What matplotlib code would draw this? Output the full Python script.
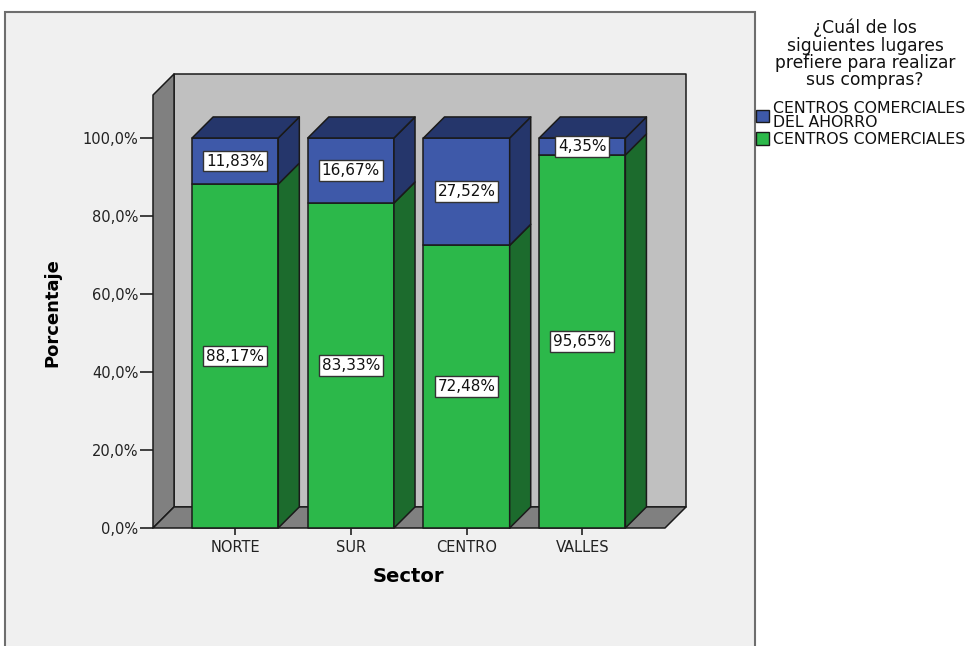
import matplotlib
matplotlib.use("Agg")
import matplotlib.pyplot as plt
from matplotlib.patches import Rectangle, Polygon, Patch

# ---- data -------------------------------------------------------------
sectors = ["NORTE", "SUR", "CENTRO", "VALLES"]
comerciales = [88.17, 83.33, 72.48, 95.65]          # CENTROS COMERCIALES
ahorro = [11.83, 16.67, 27.52, 4.35]                # CENTROS COMERCIALES DEL AHORRO
series_names = ["CENTROS COMERCIALES\nDEL AHORRO", "CENTROS COMERCIALES"]
y_ticks = [0, 20, 40, 60, 80, 100]
legend_title = "¿Cuál de los\nsiguientes lugares\nprefiere para realizar\nsus compras?"

# ---- style ------------------------------------------------------------
GREEN = "#2cb84a"
GREEN_SIDE = "#1c6b2d"
BLUE = "#3e59a9"
BLUE_DARK = "#25366b"
WALL_BACK = "#c0c0c0"
WALL_SIDE = "#808080"
PANEL = "#f0f0f0"
EDGE = "#1a1a1a"

plt.rcParams["font.family"] = ["DejaVu Sans"]

W, H = 979, 646
fig = plt.figure(figsize=(W / 100, H / 100), dpi=100, facecolor="white")

# outer chart panel
fig.patches.append(Rectangle((5 / W, -0.05), 750 / W, 1.05 - 12 / H,
                             transform=fig.transFigure, facecolor=PANEL,
                             edgecolor="#6e6e6e", lw=1.5, zorder=-5))

ax = fig.add_axes([153 / W, 118 / H, 512 / W, 433 / H])
ax.set_facecolor("none")
ax.set_zorder(2)
xmin, xmax = -0.71, 3.715
ymin, ymax = 0.0, 111.03
ax.set_xlim(xmin, xmax)
ax.set_ylim(ymin, ymax)
for s in ax.spines.values():
    s.set_visible(False)

# depth of the pseudo-3D extrusion, in data units
dx, dy = 0.182, 5.4
bar_w = 0.745


def poly(pts, fc, z):
    ax.add_patch(Polygon(pts, closed=True, facecolor=fc, edgecolor=EDGE,
                         lw=1.1, joinstyle="round", clip_on=False, zorder=z))


# walls and floor
poly([(xmin + dx, ymin + dy), (xmax + dx, ymin + dy),
      (xmax + dx, ymax + dy), (xmin + dx, ymax + dy)], WALL_BACK, 1)
poly([(xmin, ymin), (xmin + dx, ymin + dy),
      (xmin + dx, ymax + dy), (xmin, ymax)], WALL_SIDE, 2)
poly([(xmin, ymin), (xmax, ymin),
      (xmax + dx, ymin + dy), (xmin + dx, ymin + dy)], WALL_SIDE, 2)


def fmt(v, d):
    return f"{v:.{d}f}%".replace(".", ",")


# stacked 3D bars
for i, (g, b) in enumerate(zip(comerciales, ahorro)):
    x0, x1 = i - bar_w / 2, i + bar_w / 2
    segments = [(0, g, GREEN, GREEN_SIDE), (g, g + b, BLUE, BLUE_DARK)]
    for k, (y0, y1, front, side) in enumerate(segments):
        poly([(x0, y0), (x1, y0), (x1, y1), (x0, y1)], front, 3)
        poly([(x1, y0), (x1 + dx, y0 + dy), (x1 + dx, y1 + dy), (x1, y1)], side, 3)
        if k == len(segments) - 1:
            poly([(x0, y1), (x1, y1), (x1 + dx, y1 + dy), (x0 + dx, y1 + dy)],
                 BLUE_DARK, 3)
    for val, yc in ((g, g / 2), (b, g + b / 2)):
        ax.text(i, yc, fmt(val, 2), ha="center", va="center", fontsize=11,
                color="#111111", zorder=5,
                bbox=dict(boxstyle="square,pad=0.18", facecolor="white",
                          edgecolor="#333333", lw=1.0))

# axes ticks and labels
ax.set_yticks(y_ticks)
ax.set_yticklabels([fmt(v, 1) for v in y_ticks])
ax.set_xticks(range(len(sectors)))
ax.set_xticklabels(sectors)
ax.tick_params(axis="y", length=9.5, width=1.2, pad=1, labelsize=10.5,
               colors="#222222", direction="out")
ax.tick_params(axis="x", length=5, width=1.2, pad=4, labelsize=10.5,
               colors="#222222", direction="out")

ax.set_ylabel("Porcentaje", fontsize=13, fontweight="bold")
ax.yaxis.label.set_va("center")
ax.yaxis.set_label_coords((52 - 153) / 512, (528 - 313) / 433)
ax.set_xlabel("Sector", fontsize=14, fontweight="bold")
ax.xaxis.label.set_va("center")
ax.xaxis.set_label_coords((408 - 153) / 512, (528 - 577) / 433)

# legend title and entries
fig.text(865 / W, 1 - 54 / H, legend_title, ha="center", va="center",
         multialignment="center", fontsize=12.3, linespacing=0.95,
         color="#111111")
handles = [Patch(facecolor=BLUE, edgecolor=EDGE, lw=1.0),
           Patch(facecolor=GREEN, edgecolor=EDGE, lw=1.0)]
leg = fig.legend(handles, series_names,
                 loc="upper left", bbox_to_anchor=(756 / W, 1 - 101 / H),
                 frameon=False, fontsize=11.3,
                 handlelength=0.85, handleheight=0.85, handletextpad=0.25,
                 labelspacing=0.15, borderpad=0, borderaxespad=0)
for t in leg.get_texts():
    t.set_linespacing(0.9)
    t.set_color("#111111")

fig.savefig("out.png", dpi=100, facecolor="white")
